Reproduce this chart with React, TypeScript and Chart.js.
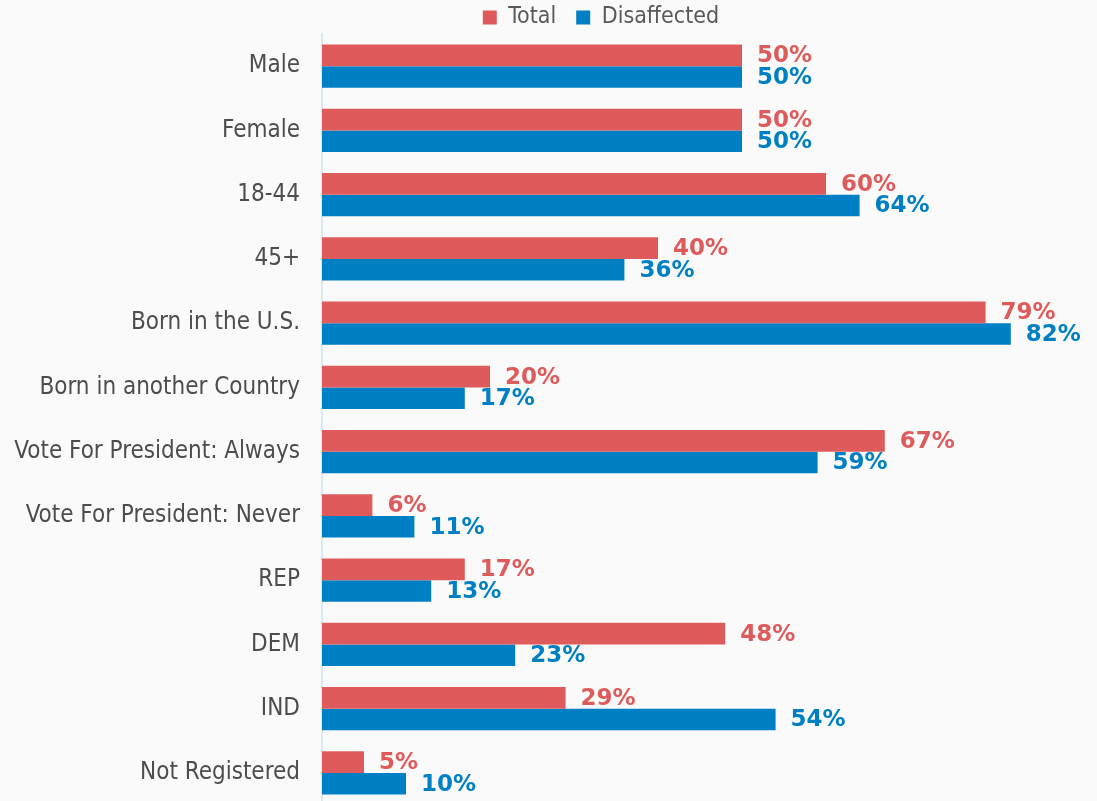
import React, { useEffect, useRef } from "react";
import { Chart, registerables } from "chart.js";

Chart.register(...registerables);

const categories = [
  "Male",
  "Female",
  "18-44",
  "45+",
  "Born in the U.S.",
  "Born in another Country",
  "Vote For President: Always",
  "Vote For President: Never",
  "REP",
  "DEM",
  "IND",
  "Not Registered",
];
const totalValues = [50, 50, 60, 40, 79, 20, 67, 6, 17, 48, 29, 5];
const disaffectedValues = [50, 50, 64, 36, 82, 17, 59, 11, 13, 23, 54, 10];
const seriesNames = ["Total", "Disaffected"];

const RED = "#df5b5b";
const BLUE = "#0080c4";
const BG = "#fafafa";
const FONT = "'DejaVu Sans Condensed', 'DejaVu Sans', sans-serif";

const bgPlugin = {
  id: "bgFill",
  beforeDraw(chart: any) {
    const { ctx, width, height } = chart;
    ctx.save();
    ctx.fillStyle = BG;
    ctx.fillRect(0, 0, width, height);
    ctx.restore();
  },
};

const legendShift = {
  id: "legendShift",
  afterLayout(chart: any) {
    const lg = chart.legend;
    if (!lg) return;
    const target = 601;
    const shift = target - (lg.left + lg.right) / 2;
    lg.left += shift;
    lg.right += shift;
    lg.top += 5;
    lg.bottom += 5;
  },
};

const valueLabels = {
  id: "valueLabels",
  afterDatasetsDraw(chart: any) {
    const { ctx } = chart;
    ctx.save();
    ctx.font = "bold 23px 'DejaVu Sans', sans-serif";
    ctx.textAlign = "left";
    ctx.textBaseline = "middle";
    chart.data.datasets.forEach((ds: any, di: number) => {
      const meta = chart.getDatasetMeta(di);
      ctx.fillStyle = ds.backgroundColor;
      meta.data.forEach((el: any, i: number) => {
        ctx.fillText(ds.data[i] + "%", el.x + 15, el.y + 1);
      });
    });
    ctx.restore();
  },
};

export default function App() {
  const ref = useRef<HTMLCanvasElement | null>(null);

  useEffect(() => {
    document.body.style.margin = "0";
    document.body.style.overflow = "hidden";
    document.body.style.background = BG;
    const canvas = ref.current;
    if (!canvas) return;
    const chart = new Chart(canvas, {
      type: "bar",
      data: {
        labels: categories,
        datasets: [
          { label: seriesNames[0], data: totalValues, backgroundColor: RED },
          { label: seriesNames[1], data: disaffectedValues, backgroundColor: BLUE },
        ],
      },
      options: {
        indexAxis: "y",
        animation: false,
        responsive: false,
        maintainAspectRatio: false,
        layout: { padding: { top: -19, right: 19, left: 0, bottom: 0 } },
        datasets: {
          bar: { categoryPercentage: 0.67, barPercentage: 1.0 },
        },
        scales: {
          x: {
            display: false,
            min: 0,
            max: 90,
          },
          y: {
            grid: { display: false, drawTicks: false },
            border: { display: true, color: "#dde8f7", width: 2 },
            ticks: {
              padding: 22,
              color: "#4d4d4d",
              font: { family: FONT, size: 24 },
            },
            afterFit(scale: any) {
              scale.width = 322;
              scale.paddingTop = 0;
              scale.paddingBottom = 0;
            },
          },
        },
        plugins: {
          legend: {
            position: "top",
            labels: {
              boxWidth: 14,
              boxHeight: 14,
              padding: 20,
              color: "#595959",
              font: { family: FONT, size: 23 },
            },
          },
          tooltip: { enabled: false },
        },
      } as any,
      plugins: [bgPlugin, legendShift, valueLabels],
    });
    return () => chart.destroy();
  }, []);

  return <canvas ref={ref} width={1097} height={805} style={{ display: "block" }} />;
}
